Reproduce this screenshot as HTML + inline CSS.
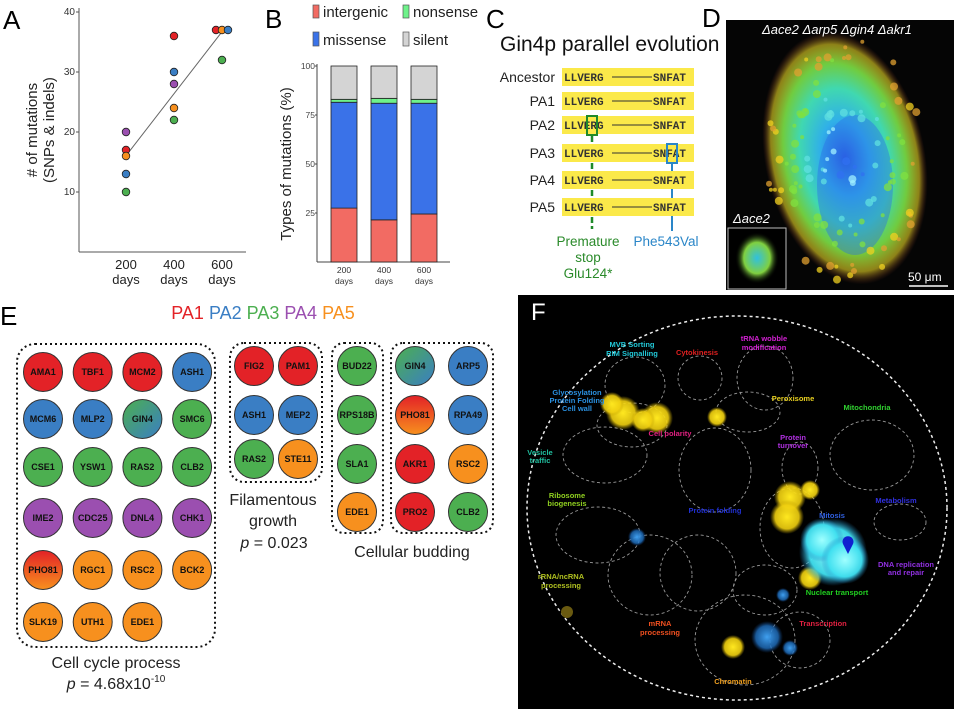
<!DOCTYPE html>
<html><head><meta charset="utf-8"><style>
html,body{margin:0;padding:0;background:#fff;}
svg{display:block;font-family:"Liberation Sans",Arial,sans-serif;}
.cl{font-weight:bold;font-size:9px;text-anchor:middle;fill:#111;}
.fl{font-weight:bold;font-size:7.5px;text-anchor:middle;}
</style></head><body>
<svg id="fig" width="954" height="709" viewBox="0 0 954 709" xmlns="http://www.w3.org/2000/svg">
<defs>
<linearGradient id="gPho" x1="0" y1="0" x2="0" y2="1"><stop offset="0" stop-color="#e32227"/><stop offset="1" stop-color="#f7901e"/></linearGradient>
<linearGradient id="gGin" x1="0" y1="0" x2="1" y2="1"><stop offset="0" stop-color="#4caf50"/><stop offset="1" stop-color="#3a7ec4"/></linearGradient>
<radialGradient id="gBlob" cx="0.5" cy="0.5" r="0.5"><stop offset="0" stop-color="#2a5ae0"/><stop offset="0.3" stop-color="#30b0e8"/><stop offset="0.55" stop-color="#40d8b0"/><stop offset="0.75" stop-color="#70cc40"/><stop offset="0.9" stop-color="#c8b820" stop-opacity="0.7"/><stop offset="1" stop-color="#803020" stop-opacity="0"/></radialGradient>
<radialGradient id="gIn" cx="0.5" cy="0.5" r="0.5"><stop offset="0" stop-color="#30c0e0"/><stop offset="0.6" stop-color="#80d040"/><stop offset="1" stop-color="#000" stop-opacity="0"/></radialGradient>
<radialGradient id="gY" cx="0.5" cy="0.5" r="0.5"><stop offset="0" stop-color="#ffe820"/><stop offset="0.7" stop-color="#f0d010" stop-opacity="0.9"/><stop offset="1" stop-color="#c0a000" stop-opacity="0"/></radialGradient>
<radialGradient id="gC" cx="0.5" cy="0.5" r="0.5"><stop offset="0" stop-color="#a0ffff"/><stop offset="0.7" stop-color="#40e0f0" stop-opacity="0.95"/><stop offset="1" stop-color="#2080c0" stop-opacity="0"/></radialGradient>
<radialGradient id="gB" cx="0.5" cy="0.5" r="0.5"><stop offset="0" stop-color="#40a0f0"/><stop offset="0.7" stop-color="#2070c0" stop-opacity="0.8"/><stop offset="1" stop-color="#104080" stop-opacity="0"/></radialGradient>
</defs>

<g id="pa">
<text x="3" y="29" font-size="26">A</text>
<text transform="translate(37,130) rotate(-90)" font-size="15" text-anchor="middle" fill="#222">
<tspan x="0" dy="0"># of mutations</tspan><tspan x="0" dy="17">(SNPs &amp; indels)</tspan></text>
</g>

<g id="pb">
<text x="265" y="28" font-size="26">B</text>
<g>
<rect x="313" y="5" width="6" height="13" fill="#f26b63" stroke="#555" stroke-width="0.7"/>
<text x="323" y="17" font-size="15" fill="#222">intergenic</text>
<rect x="403" y="5" width="6" height="13" fill="#6ef28a" stroke="#555" stroke-width="0.7"/>
<text x="413" y="17" font-size="15" fill="#222">nonsense</text>
<rect x="313" y="32" width="6" height="14" fill="#3a72e8" stroke="#555" stroke-width="0.7"/>
<text x="323" y="45" font-size="15" fill="#222">missense</text>
<rect x="403" y="32" width="6" height="14" fill="#d4d4d4" stroke="#555" stroke-width="0.7"/>
<text x="413" y="45" font-size="15" fill="#222">silent</text>
</g>
<text transform="translate(291,164) rotate(-90)" font-size="15" text-anchor="middle" fill="#222">Types of mutations (%)</text>
</g>

<g id="pc">
<text x="486" y="28" font-size="26">C</text>
<text x="500" y="51" font-size="21" fill="#111">Gin4p parallel evolution</text>
<line x1="592" y1="136" x2="592" y2="229" stroke="#1f8a2a" stroke-width="2.5" stroke-dasharray="6,3"/>
<line x1="672" y1="163" x2="672" y2="231" stroke="#2a86c8" stroke-width="2"/>
<text x="588" y="246" font-size="13.5" fill="#2a8a2a" text-anchor="middle"><tspan x="588">Premature</tspan><tspan x="588" dy="16">stop</tspan><tspan x="588" dy="16">Glu124*</tspan></text>
<text x="666" y="246" font-size="13.5" fill="#2a86c8" text-anchor="middle">Phe543Val</text>
</g>

<g id="pd">
<text x="702" y="27" font-size="26">D</text>
<rect x="726" y="20" width="228" height="270" fill="#050505"/>
<ellipse cx="845" cy="158" rx="80" ry="128" fill="url(#gBlob)" transform="rotate(-12 845 158)"/>
<ellipse cx="855" cy="185" rx="38" ry="70" fill="#2a6ae8" opacity="0.4"/>
<g id="speck"></g>
<text x="762" y="34" font-size="13" font-style="italic" fill="#fff">Δace2 Δarp5 Δgin4 Δakr1</text>
<rect x="728" y="228" width="58" height="61" fill="#000" stroke="#bbb" stroke-width="1"/>
<ellipse cx="757" cy="258" rx="22" ry="26" fill="url(#gIn)"/>
<text x="733" y="223" font-size="13" font-style="italic" fill="#fff">Δace2</text>
<text x="908" y="281" font-size="12" fill="#fff">50 μm</text>
<line x1="909" y1="286" x2="948" y2="286" stroke="#fff" stroke-width="1.5"/>
</g>

<g id="pe">
<text x="0" y="325" font-size="26">E</text>
<text x="263" y="319" font-size="18" text-anchor="middle"><tspan fill="#e32227">PA1</tspan> <tspan fill="#3a7ec4">PA2</tspan> <tspan fill="#4caf50">PA3</tspan> <tspan fill="#9b4fb0">PA4</tspan> <tspan fill="#f7901e">PA5</tspan></text>
<rect x="17" y="344" width="198" height="303" rx="18" fill="none" stroke="#111" stroke-width="2" stroke-dasharray="2,3"/>
<rect x="230" y="343" width="92" height="139" rx="14" fill="none" stroke="#111" stroke-width="2" stroke-dasharray="2,3"/>
<rect x="332" y="343" width="51" height="190" rx="12" fill="none" stroke="#111" stroke-width="2" stroke-dasharray="2,3"/>
<rect x="391" y="343" width="102" height="190" rx="12" fill="none" stroke="#111" stroke-width="2" stroke-dasharray="2,3"/>
<text x="116" y="668" font-size="16" text-anchor="middle" fill="#222">Cell cycle process</text>
<text x="116" y="689" font-size="16" text-anchor="middle" fill="#222"><tspan font-style="italic">p</tspan> = 4.68x10<tspan font-size="10" dy="-7">-10</tspan></text>
<text x="273" y="505" font-size="16" text-anchor="middle" fill="#222"><tspan x="273">Filamentous</tspan><tspan x="273" dy="21">growth</tspan></text>
<text x="274" y="548" font-size="16" text-anchor="middle" fill="#222"><tspan font-style="italic">p</tspan> = 0.023</text>
<text x="412" y="557" font-size="16" text-anchor="middle" fill="#222">Cellular budding</text>
</g>

<g id="pf">
<rect x="518" y="295" width="436" height="414" fill="#000"/>
<text x="531" y="320" font-size="24" fill="#fff">F</text>
<ellipse cx="737" cy="508" rx="210" ry="192" fill="none" stroke="#eee" stroke-width="1.5" stroke-dasharray="3,3"/>
<g fill="none" stroke="#999" stroke-width="0.9" stroke-dasharray="3,2.5">
<ellipse cx="635" cy="385" rx="30" ry="28"/><ellipse cx="700" cy="378" rx="22" ry="22"/><ellipse cx="765" cy="378" rx="28" ry="32"/>
<ellipse cx="748" cy="412" rx="32" ry="20"/><ellipse cx="632" cy="425" rx="35" ry="22"/><ellipse cx="605" cy="455" rx="42" ry="28"/>
<ellipse cx="715" cy="470" rx="36" ry="42"/><ellipse cx="800" cy="468" rx="18" ry="26"/><ellipse cx="872" cy="455" rx="42" ry="35"/>
<ellipse cx="598" cy="535" rx="42" ry="28"/><ellipse cx="900" cy="522" rx="26" ry="18"/><ellipse cx="650" cy="575" rx="42" ry="40"/>
<ellipse cx="698" cy="573" rx="38" ry="38"/><ellipse cx="792" cy="528" rx="32" ry="40"/><ellipse cx="765" cy="590" rx="32" ry="25"/>
<ellipse cx="745" cy="640" rx="50" ry="45"/><ellipse cx="800" cy="640" rx="30" ry="28"/>
</g>
<g>
<circle cx="623" cy="413" r="17" fill="url(#gY)"/><circle cx="612" cy="404" r="12" fill="url(#gY)"/><circle cx="657" cy="418" r="16" fill="url(#gY)"/><circle cx="643" cy="420" r="12" fill="url(#gY)"/>
<circle cx="717" cy="417" r="10" fill="url(#gY)"/><circle cx="790" cy="497" r="16" fill="url(#gY)"/><circle cx="787" cy="517" r="17" fill="url(#gY)"/><circle cx="810" cy="490" r="10" fill="url(#gY)"/>
<circle cx="810" cy="578" r="12" fill="url(#gY)"/><circle cx="733" cy="647" r="12" fill="url(#gY)"/><circle cx="567" cy="612" r="6" fill="#6a5a10"/>
<circle cx="833" cy="552" r="34" fill="url(#gC)"/><circle cx="822" cy="540" r="22" fill="url(#gC)"/><circle cx="845" cy="560" r="24" fill="url(#gC)"/>
<circle cx="637" cy="537" r="9" fill="url(#gB)"/><circle cx="767" cy="637" r="16" fill="url(#gB)"/><circle cx="783" cy="595" r="7" fill="url(#gB)"/><circle cx="790" cy="648" r="8" fill="url(#gB)"/>
<path d="M848,554 L843,544 A5.5,5.5 0 1 1 853,544 Z" fill="#1020d0"/>
</g>
<g>
<text class="fl" x="632" y="347" fill="#22c8d8">MVB Sorting</text><text class="fl" x="632" y="356" fill="#22c8d8">RIM Signalling</text>
<text class="fl" x="697" y="355" fill="#e02020">Cytokinesis</text>
<text class="fl" x="764" y="341" fill="#d020d0">tRNA wobble</text><text class="fl" x="764" y="350" fill="#d020d0">modification</text>
<text class="fl" x="577" y="395" fill="#2a90e0">Glycosylation</text><text class="fl" x="577" y="403" fill="#2a90e0">Protein Folding</text><text class="fl" x="577" y="411" fill="#2a90e0">Cell wall</text>
<text class="fl" x="793" y="401" fill="#e8d020">Peroxisome</text>
<text class="fl" x="867" y="410" fill="#30d030">Mitochondria</text>
<text class="fl" x="670" y="436" fill="#e02080">Cell polarity</text>
<text class="fl" x="793" y="440" fill="#b030e0">Protein</text><text class="fl" x="793" y="448" fill="#b030e0">turnover</text>
<text class="fl" x="540" y="455" fill="#20c0a0">Vesicle</text><text class="fl" x="540" y="463" fill="#20c0a0">traffic</text>
<text class="fl" x="567" y="498" fill="#90d020">Ribosome</text><text class="fl" x="567" y="506" fill="#90d020">biogenesis</text>
<text class="fl" x="896" y="503" fill="#3030e0">Metabolism</text>
<text class="fl" x="715" y="513" fill="#2030d0">Protein folding</text>
<text class="fl" x="832" y="518" fill="#3060e0">Mitosis</text>
<text class="fl" x="906" y="567" fill="#9030e0">DNA replication</text><text class="fl" x="906" y="575" fill="#9030e0">and repair</text>
<text class="fl" x="561" y="579" fill="#b0c020">rRNA/ncRNA</text><text class="fl" x="561" y="588" fill="#b0c020">processing</text>
<text class="fl" x="837" y="595" fill="#20d020">Nuclear transport</text>
<text class="fl" x="660" y="626" fill="#f05020">mRNA</text><text class="fl" x="660" y="635" fill="#f05020">processing</text>
<text class="fl" x="823" y="626" fill="#e02040">Transcription</text>
<text class="fl" x="733" y="684" fill="#f0a020">Chromatin</text>
</g>
</g>
</svg>
<script>
// ---- Panel A data ----
const aDays = [200,200,200,200,200, 400,400,400,400,400, 575,600,625,600];
const aCounts = [20,17,16,13,10, 36,30,28,24,22, 37,37,37,32];
const aPops = ["PA4","PA1","PA5","PA2","PA3", "PA1","PA2","PA4","PA5","PA3", "PA1","PA5","PA2","PA3"];
const aYTicks = [10,20,30,40];
const aXTicks = [200,400,600];
// ---- Panel B data ----
const bCats = ["200","400","600"];
const bIntergenic = [27.5,21.5,24.5];
const bMissense = [54,59.5,56.5];
const bNonsense = [1.5,2.5,2];
const bSilent = [17,16.5,17];
const bYTicks = [25,50,75,100];
// ---- Panel C data ----
const cRows = ["Ancestor","PA1","PA2","PA3","PA4","PA5"];
// ---- Panel E data ----
const eGenes = [
 ["AMA1","PA1",0,0],["TBF1","PA1",1,0],["MCM2","PA1",2,0],["ASH1","PA2",3,0],
 ["MCM6","PA2",0,1],["MLP2","PA2",1,1],["GIN4","MIX",2,1],["SMC6","PA3",3,1],
 ["CSE1","PA3",0,2],["YSW1","PA3",1,2],["RAS2","PA3",2,2],["CLB2","PA3",3,2],
 ["IME2","PA4",0,3],["CDC25","PA4",1,3],["DNL4","PA4",2,3],["CHK1","PA4",3,3],
 ["PHO81","RO",0,4],["RGC1","PA5",1,4],["RSC2","PA5",2,4],["BCK2","PA5",3,4],
 ["SLK19","PA5",0,5],["UTH1","PA5",1,5],["EDE1","PA5",2,5]];
const eFil = [["FIG2","PA1",0,0],["PAM1","PA1",1,0],["ASH1","PA2",0,1],["MEP2","PA2",1,1],["RAS2","PA3",0,2],["STE11","PA5",1,2]];
const eBud1 = [["BUD22","PA3",0,0],["RPS18B","PA3",0,1],["SLA1","PA3",0,2],["EDE1","PA5",0,3]];
const eBud2 = [["GIN4","MIX",0,0],["ARP5","PA2",1,0],["PHO81","RO",0,1],["RPA49","PA2",1,1],["AKR1","PA1",0,2],["RSC2","PA5",1,2],["PRO2","PA1",0,3],["CLB2","PA3",1,3]];

const NS="http://www.w3.org/2000/svg";
const popColor={PA1:"#e32227",PA2:"#3a7ec4",PA3:"#4caf50",PA4:"#9b4fb0",PA5:"#f7901e",MIX:"url(#gGin)",RO:"url(#gPho)"};
function mk(tag,attrs,parent){const e=document.createElementNS(NS,tag);for(const k in attrs)e.setAttribute(k,attrs[k]);(parent||document.getElementById('fig')).appendChild(e);return e;}

// Panel D speckles (decorative texture)
{const sp=document.getElementById('speck');
 const cols=['#f0d020','#60e0e0','#80e040','#e0a030','#3070f0','#a0f0ff'];
 let s=7;
 for(let i=0;i<110;i++){s=(s*9301+49297)%233280;const a=s/233280*Math.PI*2;s=(s*9301+49297)%233280;const rr=Math.sqrt(s/233280);
  const x=845+Math.cos(a)*rr*78, y=158+Math.sin(a)*rr*125;
  const col=rr>0.8?cols[i%2===0?0:3]:rr>0.55?cols[2]:rr>0.3?cols[1]:cols[i%2?4:5];
  mk('circle',{cx:x.toFixed(1),cy:y.toFixed(1),r:(2+(i%3)),fill:col,opacity:0.75},sp);}}

// Panel A
const pa=document.getElementById('pa');
const ax0=79, axR=246, ay0=252;
const aX=d=>126+(d-200)*0.24;
const aY=v=>ay0-v*6;
let e=mk('line',{x1:ax0,y1:8,x2:ax0,y2:ay0,stroke:'#555','stroke-width':1},pa);


e=mk('line',{x1:ax0,y1:ay0,x2:axR,y2:ay0,stroke:'#555','stroke-width':1},pa);


aYTicks.forEach(t=>{mk('line',{x1:ax0-3,y1:aY(t),x2:ax0,y2:aY(t),stroke:'#555'},pa);
 const tx=mk('text',{x:ax0-4,y:aY(t)+3,'font-size':10,'text-anchor':'end',fill:'#333'},pa);tx.textContent=t;
 
 });
aXTicks.forEach(t=>{const tx=mk('text',{x:aX(t),y:269,'font-size':13,'text-anchor':'middle',fill:'#222'},pa);
 tx.innerHTML='<tspan x="'+aX(t)+'">'+t+'</tspan><tspan x="'+aX(t)+'" dy="15">days</tspan>';
 
 });
{const n=aDays.length;let sx=0,sy=0,sxx=0,sxy=0;for(let i=0;i<n;i++){sx+=aDays[i];sy+=aCounts[i];sxx+=aDays[i]*aDays[i];sxy+=aDays[i]*aCounts[i];}
 const m=(n*sxy-sx*sy)/(n*sxx-sx*sx),b=(sy-m*sx)/n;
 e=mk('line',{x1:aX(205),y1:aY(m*205+b),x2:aX(615),y2:aY(m*615+b),stroke:'#666','stroke-width':1},pa);
 
 }
aDays.forEach((d,i)=>{const c=mk('circle',{cx:aX(d),cy:aY(aCounts[i]),r:3.8,fill:popColor[aPops[i]],stroke:'#222','stroke-width':0.8},pa);
 
 });

// Panel B
const pb=document.getElementById('pb');
const bx0=317, by0=262, bW=26;
const bY=v=>by0-v*1.96;
const bX=i=>344+i*40;
e=mk('line',{x1:bx0,y1:64,x2:bx0,y2:by0,stroke:'#444'},pb);


e=mk('line',{x1:bx0,y1:by0,x2:450,y2:by0,stroke:'#444'},pb);


bYTicks.forEach(t=>{mk('line',{x1:bx0-2,y1:bY(t),x2:bx0,y2:bY(t),stroke:'#444'},pb);
 const tx=mk('text',{x:bx0-2,y:bY(t)+3,'font-size':8.5,'text-anchor':'end',fill:'#444'},pb);tx.textContent=t;
 
 });
const series=[[bIntergenic,'#f26b63','intergenic'],[bMissense,'#3a72e8','missense'],[bNonsense,'#6ef28a','nonsense'],[bSilent,'#d4d4d4','silent']];
bCats.forEach((c,i)=>{let acc=0;series.forEach(([arr,col,nm])=>{const v=arr[i];
 const r=mk('rect',{x:bX(i)-bW/2,y:bY(acc+v),width:bW,height:v*1.96,fill:col,stroke:'#222','stroke-width':0.8},pb);
 
 acc+=v;});
 const tx=mk('text',{x:bX(i),y:273,'font-size':8.5,'text-anchor':'middle',fill:'#333'},pb);
 tx.innerHTML='<tspan x="'+bX(i)+'">'+c+'</tspan><tspan x="'+bX(i)+'" dy="11">days</tspan>';
 
 });

// Panel C
const pc=document.getElementById('pc');
const cYs=[77,101,125,153,180,207];
cRows.forEach((r,i)=>{const y=cYs[i];
 const lb=mk('text',{x:555,y:y+5,'font-size':14,'text-anchor':'end',fill:'#222'},pc);lb.textContent=r;
 
 
 const bg=mk('rect',{x:562,y:y-9,width:132,height:18,fill:'#fbe94a'},pc);
 
 
 mk('line',{x1:612,y1:y,x2:652,y2:y,stroke:'#333','stroke-width':1},pc);
 const s=mk('text',{x:564,y:y+4,'font-size':11,'font-family':'Liberation Mono, monospace','font-weight':'bold',fill:'#333'},pc);s.textContent='LLVERG';
 
 
 const s2=mk('text',{x:653,y:y+4,'font-size':11,'font-family':'Liberation Mono, monospace','font-weight':'bold',fill:'#333'},pc);s2.textContent='SNFAT';
 
 });
e=mk('rect',{x:587,y:116,width:10,height:19,fill:'none',stroke:'#1f8a2a','stroke-width':2},pc);


e=mk('rect',{x:667,y:144,width:10,height:19,fill:'none',stroke:'#2a86c8','stroke-width':2},pc);



// Panel E
const pe=document.getElementById('pe');
function drawGroup(list,x0,dx,y0s,gname){list.forEach(([g,p,ci,ri])=>{const cx=x0+ci*dx,cy=y0s[ri];
 const c=mk('circle',{cx:cx,cy:cy,r:19.5,fill:popColor[p],stroke:'#333','stroke-width':1},pe);
 
 
 const t=mk('text',{x:cx,y:cy+3,class:'cl'},pe);t.textContent=g;
 
 });}
drawGroup(eGenes,43,49.7,[372,419,467,518,570,622],'cell-cycle');
drawGroup(eFil,254,44,[366,415,459],'filamentous');
drawGroup(eBud1,357,0,[366,415,464,512],'budding');
drawGroup(eBud2,415,53,[366,415,464,512],'budding');
</script>
</body></html>
